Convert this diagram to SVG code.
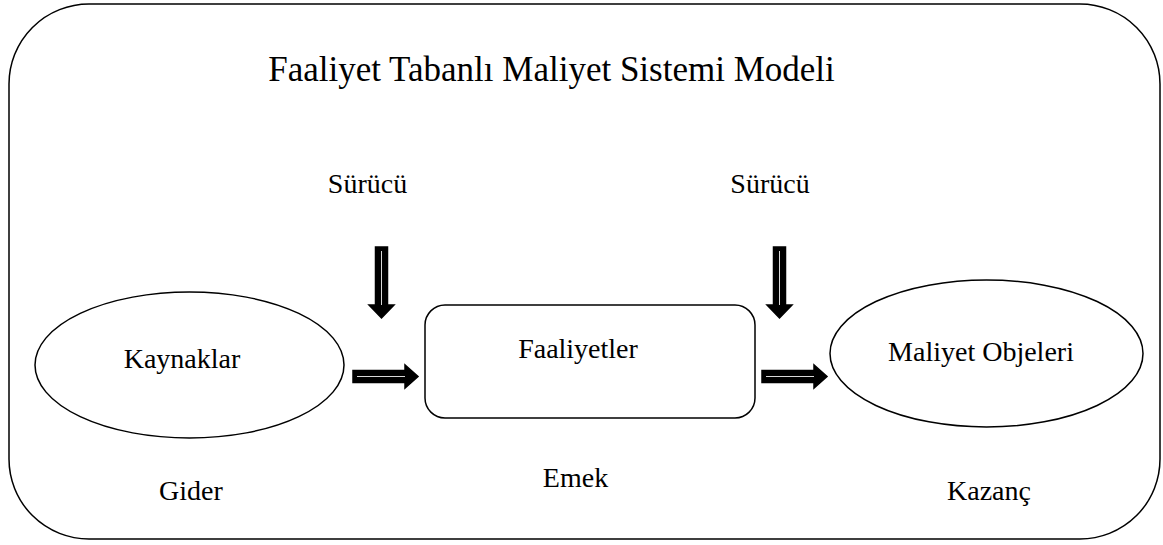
<svg xmlns="http://www.w3.org/2000/svg" width="1163" height="545" viewBox="0 0 1163 545">
<style>
.shape{fill:#fff;stroke:#000;stroke-width:1.5}
.t{font-family:"Liberation Serif","Times New Roman",serif;font-size:28px;fill:#000;text-anchor:middle}
.title{font-size:35px}
.arr{fill:#000;stroke:#000;stroke-width:1.5;stroke-linejoin:miter}
.arrin{stroke:#fff;stroke-width:1;fill:none;opacity:0.85}
</style>
<g id="frame">
<rect class="shape" x="9" y="4" width="1151" height="535" rx="80" ry="80"/>
<text class="t title" x="551.5" y="81">Faaliyet Tabanlı Maliyet Sistemi Modeli</text>
</g>
<g id="kaynaklar">
<ellipse class="shape" cx="189.5" cy="365" rx="154.5" ry="73"/>
<text class="t" x="182" y="368">Kaynaklar</text>
</g>
<g id="faaliyetler">
<rect class="shape" x="425" y="305" width="330" height="113" rx="20" ry="20"/>
<text class="t" x="578" y="358">Faaliyetler</text>
</g>
<g id="maliyet-objeleri">
<ellipse class="shape" cx="986.5" cy="353.5" rx="156.5" ry="73.5"/>
<text class="t" x="981" y="361">Maliyet Objeleri</text>
</g>
<g id="labels">
<text class="t" x="367.5" y="193">Sürücü</text>
<text class="t" x="770" y="193">Sürücü</text>
<text class="t" x="191" y="500">Gider</text>
<text class="t" x="575.5" y="487">Emek</text>
<text class="t" x="989" y="500">Kazanç</text>
</g>
<g id="connectors">
<path class="arr" d="M375.5,247 H387.5 V305 H394 L381.5,318 L369,305 H375.5 Z"/>
<line class="arrin" x1="381.5" y1="251" x2="381.5" y2="305"/>
<path class="arr" d="M773.5,247 H785.5 V305 H792 L779.5,318 L767,305 H773.5 Z"/>
<line class="arrin" x1="779.5" y1="251" x2="779.5" y2="305"/>
<path class="arr" d="M353,370.5 H405 V365 L418,376.5 L405,388 V382.5 H353 Z"/>
<line class="arrin" x1="357" y1="376.5" x2="405" y2="376.5"/>
<path class="arr" d="M762,370.5 H814 V365 L827,376.5 L814,388 V382.5 H762 Z"/>
<line class="arrin" x1="766" y1="376.5" x2="814" y2="376.5"/>
</g>
</svg>
